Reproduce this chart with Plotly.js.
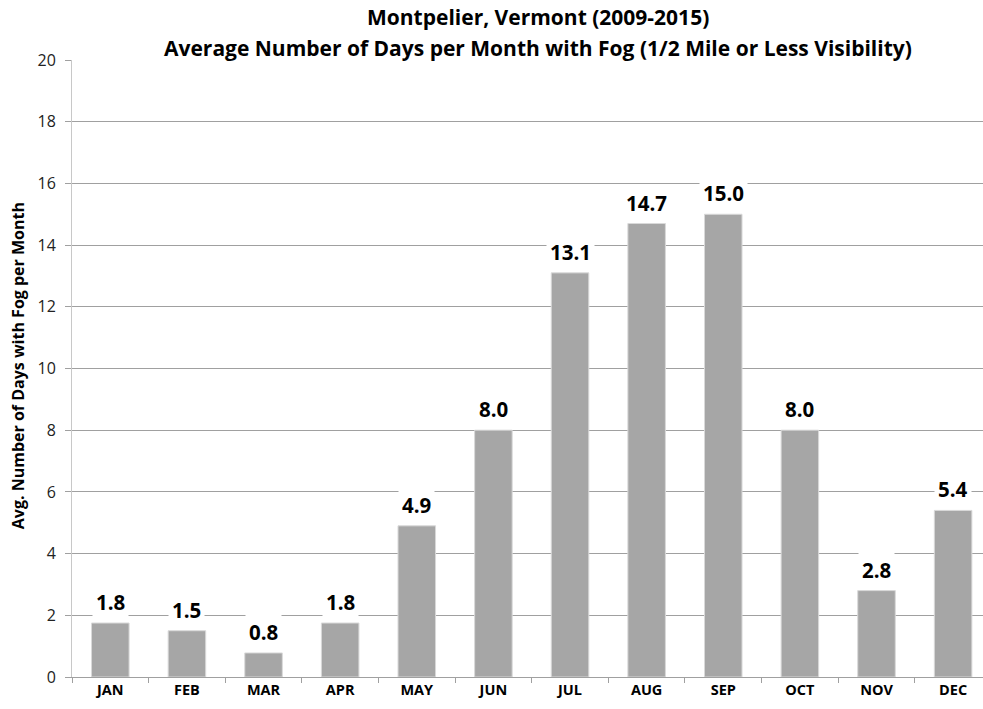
<!DOCTYPE html>
<html>
<head>
<meta charset="utf-8">
<script src="https://cdn.plot.ly/plotly-3.0.1.min.js"></script>
<style>html,body{margin:0;padding:0;background:#fff;}#chart{width:983px;height:709px;}</style>
</head>
<body>
<div id="chart"></div>
<script>
const months = ["JAN","FEB","MAR","APR","MAY","JUN","JUL","AUG","SEP","OCT","NOV","DEC"];
const fogDays = [1.75, 1.5, 0.78, 1.75, 4.9, 8.0, 13.1, 14.7, 15.0, 8.0, 2.8, 5.4];
const yTicks = [0, 2, 4, 6, 8, 10, 12, 14, 16, 18, 20];
const titleLines = ["Montpelier, Vermont (2009-2015)", "Average Number of Days per Month with Fog (1/2 Mile or Less Visibility)"];
const yTitle = "Avg. Number of Days with Fog per Month";

const FONT = "'Open Sans', Lato, sans-serif";

const trace = {
  type: "bar",
  x: months,
  y: fogDays,
  width: 0.49,
  marker: { color: "#a6a6a6", line: { color: "#d9d9d9", width: 1 } },
  hoverinfo: "x+y"
};

const annotations = months.map((m, i) => ({
  x: m, y: fogDays[i], xref: "x", yref: "y",
  text: fogDays[i].toFixed(1),
  showarrow: false, yanchor: "bottom", yshift: 3,
  font: { family: FONT, size: 20.5, color: "#000", weight: "bold" },
  bgcolor: "#ffffff", borderpad: 3
}));

annotations.push({
  xref: "paper", yref: "paper", x: -0.0593, y: 0.5053,
  xanchor: "center", yanchor: "middle", textangle: -90,
  text: "<b>" + yTitle + "</b>",
  showarrow: false,
  font: { family: FONT, size: 16, color: "#000" }
});

annotations.push({
  xref: "paper", yref: "paper", x: 0.511, y: 1.0697,
  xanchor: "center", yanchor: "middle",
  text: "<b>" + titleLines[0] + "</b>", showarrow: false,
  font: { family: FONT, size: 21, color: "#000" }
});
annotations.push({
  xref: "paper", yref: "paper", x: 0.511, y: 1.0194,
  xanchor: "center", yanchor: "middle",
  text: "<b>" + titleLines[1] + "</b>", showarrow: false,
  font: { family: FONT, size: 21, color: "#000" }
});

const layout = {
  width: 983, height: 709,
  margin: { l: 72, r: 0, t: 60, b: 32 },
  paper_bgcolor: "#fff", plot_bgcolor: "#fff",
  xaxis: {
    type: "category",
    range: [-0.5, 11.39],
    showgrid: false,
    showline: true, linecolor: "#a0a0a0", linewidth: 1,
    ticks: "outside", ticklen: 5, tickcolor: "#a0a0a0",
    tickson: "boundaries",
    tickfont: { family: FONT, size: 14.5, color: "#000", weight: "bold" },
    fixedrange: true
  },
  yaxis: {
    range: [0, 20],
    tickvals: yTicks,
    ticktext: yTicks.map(String),
    showgrid: true, gridcolor: "#a0a0a0", gridwidth: 1,
    zeroline: false,
    showline: true, linecolor: "#c8c8c8", linewidth: 1,
    ticks: "outside", ticklen: 6, tickcolor: "#a0a0a0",
    ticklabelstandoff: 6,
    tickfont: { family: FONT, size: 16, color: "#222" },
    fixedrange: true
  },
  annotations: annotations,
  showlegend: false,
  bargap: 0.5
};

Plotly.newPlot("chart", [trace], layout, { displayModeBar: false, staticPlot: true });
</script>
</body>
</html>
